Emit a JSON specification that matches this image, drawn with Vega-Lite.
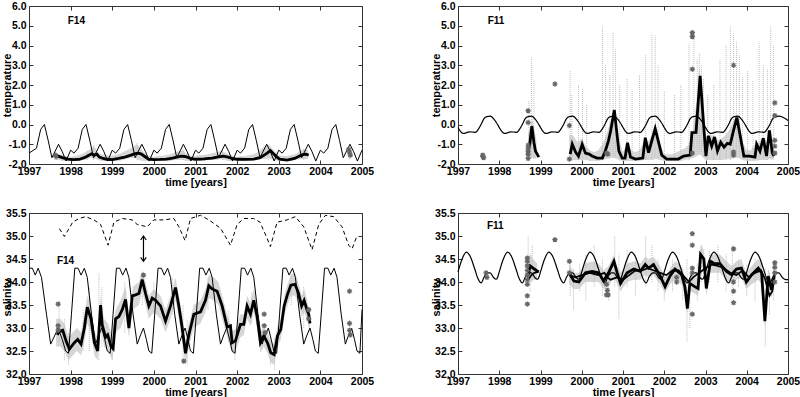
{
"$schema": "https://vega.github.io/schema/vega-lite/v6.json",
"background": "white",
"padding": {"left": 0, "top": 0, "right": 0, "bottom": 0},
"bounds": "flush",
"columns": 2,
"spacing": {"row": 49, "column": 96},
"config": {
 "view": {"stroke": "#333", "strokeWidth": 1},
 "axis": {"labelFont": "Liberation Sans", "labelFontSize": 10.5, "labelFontWeight": "bold", "labelColor": "#000", "titleFont": "Liberation Sans", "titleFontSize": 11, "titleFontWeight": "bold", "titleColor": "#000", "grid": false, "domain": false, "tickColor": "#333", "tickSize": -4, "labelOverlap": false, "labelBound": false, "labelFlush": false},
 "text": {"font": "Liberation Sans"}
},
"datasets": {
 "tl_model": [
  {"t":1997.0,"v":-1.45},{"t":1997.18,"v":-1.2},{"t":1997.28,"v":-0.25},{"t":1997.37,"v":0.0},{"t":1997.46,"v":-0.8},{"t":1997.55,"v":-1.68},{"t":1997.71,"v":-1.0},{"t":1997.8,"v":-1.38},{"t":1997.89,"v":-1.85},
  {"t":1998.0,"v":-1.3},{"t":1998.08,"v":-1.45},{"t":1998.18,"v":-1.2},{"t":1998.28,"v":-0.25},{"t":1998.37,"v":0.0},{"t":1998.46,"v":-0.8},{"t":1998.55,"v":-1.68},{"t":1998.71,"v":-1.0},{"t":1998.8,"v":-1.38},{"t":1998.89,"v":-1.85},
  {"t":1999.0,"v":-1.3},{"t":1999.08,"v":-1.45},{"t":1999.18,"v":-1.2},{"t":1999.28,"v":-0.25},{"t":1999.37,"v":0.0},{"t":1999.46,"v":-0.8},{"t":1999.55,"v":-1.68},{"t":1999.71,"v":-1.0},{"t":1999.8,"v":-1.38},{"t":1999.89,"v":-1.85},
  {"t":2000.0,"v":-1.3},{"t":2000.08,"v":-1.45},{"t":2000.18,"v":-1.2},{"t":2000.28,"v":-0.25},{"t":2000.37,"v":0.0},{"t":2000.46,"v":-0.8},{"t":2000.55,"v":-1.68},{"t":2000.71,"v":-1.0},{"t":2000.8,"v":-1.38},{"t":2000.89,"v":-1.85},
  {"t":2001.0,"v":-1.3},{"t":2001.08,"v":-1.45},{"t":2001.18,"v":-1.2},{"t":2001.28,"v":-0.25},{"t":2001.37,"v":0.0},{"t":2001.46,"v":-0.8},{"t":2001.55,"v":-1.68},{"t":2001.71,"v":-1.0},{"t":2001.8,"v":-1.38},{"t":2001.89,"v":-1.85},
  {"t":2002.0,"v":-1.3},{"t":2002.08,"v":-1.45},{"t":2002.18,"v":-1.2},{"t":2002.28,"v":-0.25},{"t":2002.37,"v":0.0},{"t":2002.46,"v":-0.8},{"t":2002.55,"v":-1.68},{"t":2002.71,"v":-1.0},{"t":2002.8,"v":-1.38},{"t":2002.89,"v":-1.85},
  {"t":2003.0,"v":-1.3},{"t":2003.08,"v":-1.45},{"t":2003.18,"v":-1.2},{"t":2003.28,"v":-0.25},{"t":2003.37,"v":0.0},{"t":2003.46,"v":-0.8},{"t":2003.55,"v":-1.68},{"t":2003.71,"v":-1.0},{"t":2003.8,"v":-1.38},{"t":2003.89,"v":-1.85},
  {"t":2004.0,"v":-1.3},{"t":2004.08,"v":-1.45},{"t":2004.18,"v":-1.2},{"t":2004.28,"v":-0.25},{"t":2004.37,"v":0.0},{"t":2004.46,"v":-0.8},{"t":2004.55,"v":-1.68},{"t":2004.71,"v":-1.0},{"t":2004.8,"v":-1.38},{"t":2004.89,"v":-1.85},
  {"t":2005.0,"v":-1.3}
 ],
 "tl_obs": [
  {"t":1997.6,"v":-1.55},{"t":1997.7,"v":-1.6},{"t":1997.8,"v":-1.68},{"t":1997.93,"v":-1.75},{"t":1998.05,"v":-1.78},{"t":1998.2,"v":-1.77},{"t":1998.33,"v":-1.68},{"t":1998.45,"v":-1.55},{"t":1998.5,"v":-1.48},{"t":1998.57,"v":-1.55},{"t":1998.63,"v":-1.5},{"t":1998.69,"v":-1.65},{"t":1998.78,"v":-1.72},{"t":1998.87,"v":-1.76},{"t":1999.0,"v":-1.78},{"t":1999.15,"v":-1.72},{"t":1999.3,"v":-1.65},{"t":1999.45,"v":-1.55},{"t":1999.55,"v":-1.48},{"t":1999.63,"v":-1.45},{"t":1999.7,"v":-1.5},{"t":1999.78,"v":-1.62},{"t":1999.87,"v":-1.75},{"t":2000.0,"v":-1.78},{"t":2000.15,"v":-1.77},{"t":2000.3,"v":-1.75},{"t":2000.45,"v":-1.7},{"t":2000.55,"v":-1.65},{"t":2000.65,"v":-1.6},{"t":2000.75,"v":-1.62},{"t":2000.88,"v":-1.72},{"t":2001.0,"v":-1.76},{"t":2001.2,"v":-1.74},{"t":2001.4,"v":-1.7},{"t":2001.55,"v":-1.64},{"t":2001.67,"v":-1.6},{"t":2001.78,"v":-1.65},{"t":2001.88,"v":-1.72},{"t":2002.0,"v":-1.76},{"t":2002.2,"v":-1.77},{"t":2002.4,"v":-1.75},{"t":2002.55,"v":-1.68},{"t":2002.65,"v":-1.55},{"t":2002.72,"v":-1.45},{"t":2002.8,"v":-1.32},{"t":2002.86,"v":-1.45},{"t":2002.93,"v":-1.6},{"t":2003.02,"v":-1.75},{"t":2003.2,"v":-1.8},{"t":2003.38,"v":-1.72},{"t":2003.5,"v":-1.6},{"t":2003.58,"v":-1.52},{"t":2003.65,"v":-1.5},{"t":2003.72,"v":-1.55}
 ],
 "tl_band": [
  {"t":1997.62,"v":-1.8,"v2":-1.4,"s":1},{"t":1997.72,"v":-1.8,"v2":-1.5,"s":1},{"t":1997.8,"v":-1.85,"v2":-1.55,"s":1},{"t":1997.9,"v":-1.85,"v2":-1.6,"s":1},{"t":1998.0,"v":-1.85,"v2":-1.65,"s":1},{"t":1998.1,"v":-1.85,"v2":-1.6,"s":1},{"t":1998.2,"v":-1.85,"v2":-1.55,"s":1},{"t":1998.3,"v":-1.8,"v2":-1.45,"s":1},{"t":1998.4,"v":-1.75,"v2":-1.35,"s":1},{"t":1998.5,"v":-1.7,"v2":-1.2,"s":1},{"t":1998.55,"v":-1.75,"v2":-1.1,"s":1},{"t":1998.6,"v":-1.75,"v2":-1.2,"s":1},{"t":1998.65,"v":-1.8,"v2":-1.4,"s":1},{"t":1998.75,"v":-1.85,"v2":-1.5,"s":1},{"t":1998.85,"v":-1.85,"v2":-1.55,"s":1},{"t":1998.95,"v":-1.85,"v2":-1.6,"s":1},{"t":1999.05,"v":-1.85,"v2":-1.55,"s":1},{"t":1999.15,"v":-1.85,"v2":-1.5,"s":1},{"t":1999.25,"v":-1.8,"v2":-1.4,"s":1},{"t":1999.35,"v":-1.75,"v2":-1.3,"s":1},{"t":1999.45,"v":-1.7,"v2":-1.2,"s":1},{"t":1999.55,"v":-1.7,"v2":-1.05,"s":1},{"t":1999.6,"v":-1.75,"v2":-1.0,"s":1},{"t":1999.65,"v":-1.8,"v2":-1.1,"s":1},{"t":1999.72,"v":-1.85,"v2":-1.3,"s":1},{"t":1999.8,"v":-1.85,"v2":-1.5,"s":1},{"t":1999.9,"v":-1.85,"v2":-1.6,"s":1},{"t":2000.0,"v":-1.85,"v2":-1.65,"s":1},{"t":2000.1,"v":-1.85,"v2":-1.6,"s":1},{"t":2000.2,"v":-1.85,"v2":-1.6,"s":1},{"t":2000.3,"v":-1.85,"v2":-1.55,"s":1},{"t":2000.4,"v":-1.85,"v2":-1.5,"s":1},{"t":2000.5,"v":-1.8,"v2":-1.4,"s":1},{"t":2000.6,"v":-1.8,"v2":-1.35,"s":1},{"t":2000.7,"v":-1.8,"v2":-1.3,"s":1},{"t":2000.8,"v":-1.85,"v2":-1.5,"s":1},{"t":2000.9,"v":-1.85,"v2":-1.6,"s":1},{"t":2001.0,"v":-1.85,"v2":-1.6,"s":1},{"t":2001.1,"v":-1.85,"v2":-1.55,"s":1},{"t":2001.2,"v":-1.85,"v2":-1.55,"s":1},{"t":2001.3,"v":-1.8,"v2":-1.5,"s":1},{"t":2001.4,"v":-1.8,"v2":-1.45,"s":1},{"t":2001.5,"v":-1.8,"v2":-1.4,"s":1},{"t":2001.6,"v":-1.75,"v2":-1.35,"s":1},{"t":2001.7,"v":-1.8,"v2":-1.4,"s":1},{"t":2001.8,"v":-1.85,"v2":-1.5,"s":1},{"t":2001.9,"v":-1.85,"v2":-1.6,"s":1},{"t":2002.0,"v":-1.85,"v2":-1.65,"s":1},{"t":2002.1,"v":-1.85,"v2":-1.6,"s":1},{"t":2002.2,"v":-1.85,"v2":-1.6,"s":1},{"t":2002.3,"v":-1.85,"v2":-1.55,"s":1},{"t":2002.4,"v":-1.8,"v2":-1.5,"s":1},{"t":2002.5,"v":-1.8,"v2":-1.4,"s":1},{"t":2002.6,"v":-1.75,"v2":-1.2,"s":1},{"t":2002.7,"v":-1.75,"v2":-1.05,"s":1},{"t":2002.75,"v":-1.7,"v2":-1.05,"s":1},{"t":2002.8,"v":-1.75,"v2":-1.1,"s":1},{"t":2002.9,"v":-1.8,"v2":-1.35,"s":1},{"t":2003.0,"v":-1.85,"v2":-1.55,"s":1},{"t":2003.1,"v":-1.85,"v2":-1.6,"s":1},{"t":2003.2,"v":-1.85,"v2":-1.6,"s":1},{"t":2003.3,"v":-1.85,"v2":-1.55,"s":1},{"t":2003.4,"v":-1.8,"v2":-1.5,"s":1},{"t":2003.5,"v":-1.75,"v2":-1.35,"s":1},{"t":2003.6,"v":-1.75,"v2":-1.25,"s":1},{"t":2003.7,"v":-1.75,"v2":-1.3,"s":1},
  {"t":2004.66,"v":-1.65,"v2":-1.2,"s":2},{"t":2004.7,"v":-1.7,"v2":-1.25,"s":2},{"t":2004.74,"v":-1.6,"v2":-1.3,"s":2}
 ],
 "tl_streak": [
  {"t":1998.4,"v":-1.8,"v2":-1.3},{"t":1998.55,"v":-1.8,"v2":-1.0},{"t":1999.6,"v":-1.8,"v2":-0.95},{"t":2000.7,"v":-1.8,"v2":-1.25},{"t":2001.65,"v":-1.8,"v2":-1.3},{"t":2002.75,"v":-1.8,"v2":-1.0},{"t":2003.6,"v":-1.8,"v2":-1.2},{"t":2004.7,"v":-1.75,"v2":-1.15}
 ],
 "tl_star": [
  {"t":1997.63,"v":-1.55},{"t":1997.65,"v":-1.62},{"t":2004.68,"v":-1.25},{"t":2004.7,"v":-1.4},{"t":2004.72,"v":-1.55}
 ],
 "tr_model": [
  {"t":1997.0,"v":-0.15},{"t":1997.06,"v":-0.35},{"t":1997.12,"v":-0.45},{"t":1997.2,"v":-0.42},{"t":1997.27,"v":-0.37},{"t":1997.35,"v":-0.38},{"t":1997.42,"v":-0.4},{"t":1997.49,"v":-0.25},{"t":1997.56,"v":0.0},{"t":1997.63,"v":0.3},{"t":1997.7,"v":0.4},{"t":1997.78,"v":0.42},{"t":1997.86,"v":0.3},{"t":1997.93,"v":0.1},
  {"t":1998.0,"v":-0.15},{"t":1998.06,"v":-0.35},{"t":1998.12,"v":-0.45},{"t":1998.2,"v":-0.42},{"t":1998.27,"v":-0.37},{"t":1998.35,"v":-0.38},{"t":1998.42,"v":-0.4},{"t":1998.49,"v":-0.25},{"t":1998.56,"v":0.0},{"t":1998.63,"v":0.3},{"t":1998.7,"v":0.4},{"t":1998.78,"v":0.42},{"t":1998.86,"v":0.3},{"t":1998.93,"v":0.1},
  {"t":1999.0,"v":-0.15},{"t":1999.06,"v":-0.35},{"t":1999.12,"v":-0.45},{"t":1999.2,"v":-0.42},{"t":1999.27,"v":-0.37},{"t":1999.35,"v":-0.38},{"t":1999.42,"v":-0.4},{"t":1999.49,"v":-0.25},{"t":1999.56,"v":0.0},{"t":1999.63,"v":0.3},{"t":1999.7,"v":0.4},{"t":1999.78,"v":0.42},{"t":1999.86,"v":0.3},{"t":1999.93,"v":0.1},
  {"t":2000.0,"v":-0.15},{"t":2000.06,"v":-0.35},{"t":2000.12,"v":-0.45},{"t":2000.2,"v":-0.42},{"t":2000.27,"v":-0.37},{"t":2000.35,"v":-0.38},{"t":2000.42,"v":-0.4},{"t":2000.49,"v":-0.25},{"t":2000.56,"v":0.0},{"t":2000.63,"v":0.3},{"t":2000.7,"v":0.4},{"t":2000.78,"v":0.42},{"t":2000.86,"v":0.3},{"t":2000.93,"v":0.1},
  {"t":2001.0,"v":-0.15},{"t":2001.06,"v":-0.35},{"t":2001.12,"v":-0.45},{"t":2001.2,"v":-0.42},{"t":2001.27,"v":-0.37},{"t":2001.35,"v":-0.38},{"t":2001.42,"v":-0.4},{"t":2001.49,"v":-0.25},{"t":2001.56,"v":0.0},{"t":2001.63,"v":0.3},{"t":2001.7,"v":0.4},{"t":2001.78,"v":0.42},{"t":2001.86,"v":0.3},{"t":2001.93,"v":0.1},
  {"t":2002.0,"v":-0.15},{"t":2002.06,"v":-0.35},{"t":2002.12,"v":-0.45},{"t":2002.2,"v":-0.42},{"t":2002.27,"v":-0.37},{"t":2002.35,"v":-0.38},{"t":2002.42,"v":-0.4},{"t":2002.49,"v":-0.25},{"t":2002.56,"v":0.0},{"t":2002.63,"v":0.3},{"t":2002.7,"v":0.4},{"t":2002.78,"v":0.42},{"t":2002.86,"v":0.3},{"t":2002.93,"v":0.1},
  {"t":2003.0,"v":-0.15},{"t":2003.06,"v":-0.35},{"t":2003.12,"v":-0.45},{"t":2003.2,"v":-0.42},{"t":2003.27,"v":-0.37},{"t":2003.35,"v":-0.38},{"t":2003.42,"v":-0.4},{"t":2003.49,"v":-0.25},{"t":2003.56,"v":0.0},{"t":2003.63,"v":0.3},{"t":2003.7,"v":0.4},{"t":2003.78,"v":0.42},{"t":2003.86,"v":0.3},{"t":2003.93,"v":0.1},
  {"t":2004.0,"v":-0.15},{"t":2004.06,"v":-0.35},{"t":2004.12,"v":-0.45},{"t":2004.2,"v":-0.42},{"t":2004.27,"v":-0.37},{"t":2004.35,"v":-0.38},{"t":2004.42,"v":-0.4},{"t":2004.49,"v":-0.25},{"t":2004.56,"v":0.0},{"t":2004.63,"v":0.3},{"t":2004.7,"v":0.4},{"t":2004.78,"v":0.42},{"t":2004.86,"v":0.38},{"t":2004.93,"v":0.3},
  {"t":2005.0,"v":0.2}
 ],
 "tr_obs": [
  {"t":1998.68,"v":-1.5,"s":1},{"t":1998.74,"v":-1.0,"s":1},{"t":1998.79,"v":-0.08,"s":1},{"t":1998.84,"v":-0.9,"s":1},{"t":1998.88,"v":-1.35,"s":1},{"t":1998.96,"v":-1.65,"s":1},
  {"t":1999.72,"v":-1.5,"s":2},{"t":1999.77,"v":-1.0,"s":2},{"t":1999.85,"v":-1.4,"s":2},{"t":1999.92,"v":-1.6,"s":2},{"t":2000.01,"v":-1.0,"s":2},{"t":2000.09,"v":-1.45,"s":2},{"t":2000.18,"v":-1.5,"s":2},{"t":2000.25,"v":-1.6,"s":2},{"t":2000.37,"v":-1.7,"s":2},{"t":2000.5,"v":-1.7,"s":2},{"t":2000.57,"v":-1.35,"s":2},{"t":2000.65,"v":-0.8,"s":2},{"t":2000.7,"v":-0.33,"s":2},{"t":2000.79,"v":0.73,"s":2},{"t":2000.9,"v":-1.35,"s":2},{"t":2000.98,"v":-1.7,"s":2},{"t":2001.05,"v":-1.7,"s":2},{"t":2001.11,"v":-0.92,"s":2},{"t":2001.18,"v":-1.65,"s":2},{"t":2001.3,"v":-1.75,"s":2},{"t":2001.48,"v":-1.7,"s":2},{"t":2001.54,"v":-0.67,"s":2},{"t":2001.62,"v":-1.43,"s":2},{"t":2001.78,"v":-0.21,"s":2},{"t":2001.94,"v":-1.55,"s":2},{"t":2002.06,"v":-1.75,"s":2},{"t":2002.34,"v":-1.75,"s":2},{"t":2002.47,"v":-1.6,"s":2},{"t":2002.63,"v":-1.55,"s":2},{"t":2002.67,"v":-0.41,"s":2},{"t":2002.77,"v":-0.4,"s":2},{"t":2002.87,"v":2.46,"s":2},{"t":2003.01,"v":-1.6,"s":2},{"t":2003.07,"v":-0.58,"s":2},{"t":2003.15,"v":-1.1,"s":2},{"t":2003.22,"v":-0.63,"s":2},{"t":2003.29,"v":-1.34,"s":2},{"t":2003.37,"v":-0.9,"s":2},{"t":2003.45,"v":-1.15,"s":2},{"t":2003.53,"v":-0.95,"s":2},{"t":2003.6,"v":-1.0,"s":2},{"t":2003.68,"v":-0.3,"s":2},{"t":2003.76,"v":0.35,"s":2},{"t":2003.93,"v":-1.6,"s":2},{"t":2004.07,"v":-1.6,"s":2},{"t":2004.2,"v":-1.65,"s":2},{"t":2004.24,"v":-1.0,"s":2},{"t":2004.32,"v":-1.35,"s":2},{"t":2004.4,"v":-0.7,"s":2},{"t":2004.48,"v":-1.6,"s":2},{"t":2004.55,"v":-0.3,"s":2},{"t":2004.62,"v":-1.45,"s":2},{"t":2004.66,"v":-1.6,"s":2}
 ],
 "tr_band": [
  {"t":1998.7,"v":-1.8,"v2":-0.5,"s":1},{"t":1998.8,"v":-1.7,"v2":0.3,"s":1},{"t":1998.9,"v":-1.75,"v2":-0.8,"s":1},
  {"t":1999.7,"v":-1.85,"v2":-0.5,"s":2},{"t":1999.8,"v":-1.8,"v2":-0.6,"s":2},{"t":1999.9,"v":-1.8,"v2":-0.9,"s":2},{"t":2000.0,"v":-1.8,"v2":-0.7,"s":2},{"t":2000.1,"v":-1.8,"v2":-1.1,"s":2},{"t":2000.2,"v":-1.85,"v2":-1.3,"s":2},{"t":2000.3,"v":-1.85,"v2":-1.4,"s":2},{"t":2000.4,"v":-1.85,"v2":-1.3,"s":2},{"t":2000.5,"v":-1.8,"v2":-1.0,"s":2},{"t":2000.6,"v":-1.75,"v2":-0.5,"s":2},{"t":2000.7,"v":-1.7,"v2":0.2,"s":2},{"t":2000.8,"v":-1.7,"v2":0.5,"s":2},{"t":2000.9,"v":-1.8,"v2":-0.8,"s":2},{"t":2001.0,"v":-1.85,"v2":-1.4,"s":2},{"t":2001.1,"v":-1.85,"v2":-0.9,"s":2},{"t":2001.2,"v":-1.85,"v2":-1.3,"s":2},{"t":2001.3,"v":-1.85,"v2":-1.4,"s":2},{"t":2001.4,"v":-1.85,"v2":-1.3,"s":2},{"t":2001.5,"v":-1.8,"v2":-0.9,"s":2},{"t":2001.6,"v":-1.8,"v2":-0.9,"s":2},{"t":2001.7,"v":-1.8,"v2":-0.5,"s":2},{"t":2001.8,"v":-1.75,"v2":-0.3,"s":2},{"t":2001.9,"v":-1.8,"v2":-1.0,"s":2},{"t":2002.0,"v":-1.85,"v2":-1.5,"s":2},{"t":2002.1,"v":-1.85,"v2":-1.5,"s":2},{"t":2002.2,"v":-1.85,"v2":-1.5,"s":2},{"t":2002.3,"v":-1.85,"v2":-1.4,"s":2},{"t":2002.4,"v":-1.85,"v2":-1.3,"s":2},{"t":2002.5,"v":-1.8,"v2":-1.2,"s":2},{"t":2002.6,"v":-1.75,"v2":-1.0,"s":2},{"t":2002.7,"v":-1.7,"v2":-0.2,"s":2},{"t":2002.8,"v":-1.6,"v2":1.5,"s":2},{"t":2002.85,"v":-1.5,"v2":3.0,"s":2},{"t":2002.9,"v":-1.6,"v2":1.8,"s":2},{"t":2003.0,"v":-1.8,"v2":-0.6,"s":2},{"t":2003.1,"v":-1.8,"v2":-0.5,"s":2},{"t":2003.2,"v":-1.8,"v2":-0.6,"s":2},{"t":2003.3,"v":-1.8,"v2":-0.8,"s":2},{"t":2003.4,"v":-1.8,"v2":-0.7,"s":2},{"t":2003.5,"v":-1.75,"v2":-0.5,"s":2},{"t":2003.6,"v":-1.75,"v2":-0.2,"s":2},{"t":2003.7,"v":-1.7,"v2":0.3,"s":2},{"t":2003.8,"v":-1.7,"v2":0.5,"s":2},{"t":2003.9,"v":-1.8,"v2":-0.9,"s":2},{"t":2004.0,"v":-1.85,"v2":-1.3,"s":2},{"t":2004.1,"v":-1.85,"v2":-1.3,"s":2},{"t":2004.2,"v":-1.85,"v2":-1.0,"s":2},{"t":2004.3,"v":-1.8,"v2":-0.9,"s":2},{"t":2004.4,"v":-1.8,"v2":-0.6,"s":2},{"t":2004.5,"v":-1.8,"v2":-0.9,"s":2},{"t":2004.55,"v":-1.75,"v2":-0.2,"s":2},{"t":2004.65,"v":-1.8,"v2":-0.9,"s":2}
 ],
 "tr_streak": [
  {"t":1998.72,"v":-1.8,"v2":1.2},{"t":1998.78,"v":-1.7,"v2":3.4},{"t":1998.84,"v":-1.7,"v2":2.2},{"t":1999.72,"v":-1.8,"v2":2.7},{"t":1999.76,"v":-1.7,"v2":1.5},{"t":1999.92,"v":-1.8,"v2":2.0},{"t":2000.02,"v":-1.7,"v2":1.8},{"t":2000.12,"v":-1.7,"v2":1.0},{"t":2000.5,"v":-1.8,"v2":5.0},{"t":2000.58,"v":-1.7,"v2":3.0},{"t":2000.68,"v":-1.7,"v2":2.5},{"t":2000.76,"v":-1.6,"v2":4.7},{"t":2000.82,"v":-1.6,"v2":3.8},{"t":2000.92,"v":-1.7,"v2":2.0},{"t":2001.1,"v":-1.8,"v2":2.3},{"t":2001.22,"v":-1.7,"v2":1.7},{"t":2001.4,"v":-1.8,"v2":2.5},{"t":2001.55,"v":-1.8,"v2":3.5},{"t":2001.7,"v":-1.7,"v2":4.6},{"t":2001.78,"v":-1.6,"v2":4.5},{"t":2001.85,"v":-1.7,"v2":3.0},{"t":2002.0,"v":-1.8,"v2":1.7},{"t":2002.25,"v":-1.8,"v2":1.5},{"t":2002.4,"v":-1.8,"v2":2.0},{"t":2002.6,"v":-1.8,"v2":4.1},{"t":2002.72,"v":-1.6,"v2":4.8},{"t":2002.8,"v":-1.5,"v2":3.3},{"t":2002.85,"v":-1.5,"v2":3.6},{"t":2002.9,"v":-1.4,"v2":3.0},{"t":2002.95,"v":-1.6,"v2":2.3},{"t":2003.05,"v":-1.8,"v2":1.5},{"t":2003.2,"v":-1.8,"v2":2.0},{"t":2003.35,"v":-1.8,"v2":3.3},{"t":2003.5,"v":-1.8,"v2":4.0},{"t":2003.6,"v":-1.8,"v2":5.0},{"t":2003.68,"v":-1.7,"v2":4.6},{"t":2003.75,"v":-1.6,"v2":4.2},{"t":2003.82,"v":-1.6,"v2":3.5},{"t":2003.9,"v":-1.7,"v2":2.4},{"t":2004.02,"v":-1.8,"v2":2.7},{"t":2004.15,"v":-1.8,"v2":2.2},{"t":2004.3,"v":-1.8,"v2":4.2},{"t":2004.4,"v":-1.7,"v2":3.0},{"t":2004.5,"v":-1.8,"v2":2.8},{"t":2004.58,"v":-1.7,"v2":5.0},{"t":2004.65,"v":-1.7,"v2":4.0}
 ],
 "tr_star": [
  {"t":1997.6,"v":-1.55},{"t":1997.6,"v":-1.62},{"t":1997.62,"v":-1.68},{"t":1998.7,"v":0.7},{"t":1998.7,"v":0.1},{"t":1998.7,"v":-1.05},{"t":1998.7,"v":-1.2},{"t":1998.7,"v":-1.35},{"t":1998.7,"v":-1.5},{"t":1998.7,"v":-1.72},{"t":1999.35,"v":2.05},{"t":1999.7,"v":-0.05},{"t":1999.7,"v":-1.75},{"t":2000.6,"v":-1.45},{"t":2000.63,"v":-1.5},{"t":2002.68,"v":4.65},{"t":2002.68,"v":4.45},{"t":2002.68,"v":2.8},{"t":2002.68,"v":-1.45},{"t":2003.68,"v":3.0},{"t":2003.68,"v":-1.4},{"t":2003.68,"v":-1.55},{"t":2004.68,"v":1.1},{"t":2004.68,"v":0.45},{"t":2004.68,"v":-0.8},{"t":2004.68,"v":-1.1},{"t":2004.68,"v":-1.45}
 ],
 "bl_model": [
  {"t":1997.0,"v":34.3},{"t":1997.08,"v":34.3},{"t":1997.15,"v":34.15},{"t":1997.22,"v":34.3},{"t":1997.3,"v":34.1},{"t":1997.42,"v":33.3},{"t":1997.52,"v":32.65},{"t":1997.6,"v":32.8},{"t":1997.7,"v":33.0},{"t":1997.8,"v":32.75},{"t":1997.88,"v":32.5},{"t":1997.95,"v":32.45},
  {"t":1998.02,"v":33.3},{"t":1998.1,"v":34.3},{"t":1998.18,"v":34.3},{"t":1998.25,"v":34.15},{"t":1998.33,"v":34.3},{"t":1998.4,"v":34.1},{"t":1998.5,"v":33.3},{"t":1998.6,"v":32.65},{"t":1998.68,"v":32.85},{"t":1998.75,"v":33.0},{"t":1998.82,"v":32.75},{"t":1998.88,"v":32.5},{"t":1998.95,"v":32.45},
  {"t":1999.02,"v":33.3},{"t":1999.1,"v":34.3},{"t":1999.18,"v":34.3},{"t":1999.25,"v":34.15},{"t":1999.33,"v":34.3},{"t":1999.4,"v":34.1},{"t":1999.5,"v":33.3},{"t":1999.6,"v":32.65},{"t":1999.68,"v":32.85},{"t":1999.75,"v":33.0},{"t":1999.82,"v":32.75},{"t":1999.88,"v":32.5},{"t":1999.95,"v":32.45},
  {"t":2000.02,"v":33.3},{"t":2000.1,"v":34.3},{"t":2000.18,"v":34.3},{"t":2000.25,"v":34.15},{"t":2000.33,"v":34.3},{"t":2000.4,"v":34.1},{"t":2000.5,"v":33.3},{"t":2000.6,"v":32.65},{"t":2000.68,"v":32.85},{"t":2000.75,"v":33.0},{"t":2000.82,"v":32.75},{"t":2000.88,"v":32.5},{"t":2000.95,"v":32.45},
  {"t":2001.02,"v":33.3},{"t":2001.1,"v":34.3},{"t":2001.18,"v":34.3},{"t":2001.25,"v":34.15},{"t":2001.33,"v":34.3},{"t":2001.4,"v":34.1},{"t":2001.5,"v":33.3},{"t":2001.6,"v":32.65},{"t":2001.68,"v":32.85},{"t":2001.75,"v":33.0},{"t":2001.82,"v":32.75},{"t":2001.88,"v":32.5},{"t":2001.95,"v":32.45},
  {"t":2002.02,"v":33.3},{"t":2002.1,"v":34.3},{"t":2002.18,"v":34.3},{"t":2002.25,"v":34.15},{"t":2002.33,"v":34.3},{"t":2002.4,"v":34.1},{"t":2002.5,"v":33.3},{"t":2002.6,"v":32.65},{"t":2002.68,"v":32.85},{"t":2002.75,"v":33.0},{"t":2002.82,"v":32.75},{"t":2002.88,"v":32.5},{"t":2002.95,"v":32.45},
  {"t":2003.02,"v":33.3},{"t":2003.1,"v":34.3},{"t":2003.18,"v":34.3},{"t":2003.25,"v":34.15},{"t":2003.33,"v":34.3},{"t":2003.4,"v":34.1},{"t":2003.5,"v":33.3},{"t":2003.6,"v":32.65},{"t":2003.68,"v":32.85},{"t":2003.75,"v":33.0},{"t":2003.82,"v":32.75},{"t":2003.88,"v":32.5},{"t":2003.95,"v":32.45},
  {"t":2004.02,"v":33.3},{"t":2004.1,"v":34.3},{"t":2004.18,"v":34.3},{"t":2004.25,"v":34.15},{"t":2004.33,"v":34.3},{"t":2004.4,"v":34.1},{"t":2004.5,"v":33.3},{"t":2004.6,"v":32.65},{"t":2004.68,"v":32.85},{"t":2004.75,"v":33.0},{"t":2004.82,"v":32.75},{"t":2004.88,"v":32.5},{"t":2004.95,"v":32.45},
  {"t":2005.0,"v":33.4}
 ],
 "bl_obs": [
  {"t":1997.68,"v":32.85},{"t":1997.73,"v":32.93},{"t":1997.81,"v":32.95},{"t":1997.89,"v":32.72},{"t":1997.97,"v":32.54},{"t":1998.09,"v":32.68},{"t":1998.17,"v":32.75},{"t":1998.25,"v":32.65},{"t":1998.33,"v":33.0},{"t":1998.4,"v":33.45},{"t":1998.49,"v":33.2},{"t":1998.57,"v":32.68},{"t":1998.65,"v":32.5},{"t":1998.72,"v":33.5},{"t":1998.76,"v":33.06},{"t":1998.84,"v":32.8},{"t":1998.89,"v":32.85},{"t":1998.97,"v":32.6},{"t":1999.02,"v":32.55},{"t":1999.08,"v":33.2},{"t":1999.16,"v":33.25},{"t":1999.24,"v":33.4},{"t":1999.32,"v":33.62},{"t":1999.4,"v":33.0},{"t":1999.48,"v":33.7},{"t":1999.56,"v":33.72},{"t":1999.64,"v":33.75},{"t":1999.72,"v":34.05},{"t":1999.8,"v":33.75},{"t":1999.88,"v":33.48},{"t":1999.96,"v":33.65},{"t":2000.04,"v":33.6},{"t":2000.16,"v":33.48},{"t":2000.28,"v":33.15},{"t":2000.4,"v":33.48},{"t":2000.52,"v":33.88},{"t":2000.6,"v":33.48},{"t":2000.68,"v":33.0},{"t":2000.76,"v":32.45},{"t":2000.84,"v":32.85},{"t":2000.96,"v":33.3},{"t":2001.12,"v":33.35},{"t":2001.24,"v":33.6},{"t":2001.32,"v":33.92},{"t":2001.4,"v":33.85},{"t":2001.52,"v":33.8},{"t":2001.64,"v":33.48},{"t":2001.76,"v":33.02},{"t":2001.84,"v":33.05},{"t":2001.88,"v":32.68},{"t":2001.96,"v":32.72},{"t":2002.08,"v":33.08},{"t":2002.16,"v":33.08},{"t":2002.24,"v":33.48},{"t":2002.32,"v":33.3},{"t":2002.4,"v":33.6},{"t":2002.48,"v":33.25},{"t":2002.56,"v":32.68},{"t":2002.64,"v":32.83},{"t":2002.73,"v":32.68},{"t":2002.81,"v":32.46},{"t":2002.89,"v":32.42},{"t":2002.97,"v":32.83},{"t":2003.05,"v":32.97},{"t":2003.13,"v":33.48},{"t":2003.21,"v":33.73},{"t":2003.29,"v":33.93},{"t":2003.39,"v":33.95},{"t":2003.47,"v":33.77},{"t":2003.55,"v":33.48},{"t":2003.61,"v":33.6},{"t":2003.67,"v":33.42},{"t":2003.72,"v":33.3},{"t":2003.75,"v":33.1}
 ],
 "bl_dash": [
  {"t":1997.73,"v":35.16},{"t":1997.85,"v":34.99},{"t":1998.05,"v":35.3},{"t":1998.2,"v":35.38},{"t":1998.36,"v":35.42},{"t":1998.56,"v":35.35},{"t":1998.72,"v":35.25},{"t":1998.9,"v":34.8},{"t":1999.04,"v":35.3},{"t":1999.24,"v":35.38},{"t":1999.48,"v":35.35},{"t":1999.6,"v":35.25},{"t":1999.84,"v":35.2},{"t":2000.0,"v":35.35},{"t":2000.24,"v":35.35},{"t":2000.48,"v":35.38},{"t":2000.6,"v":35.2},{"t":2000.75,"v":34.9},{"t":2000.88,"v":35.38},{"t":2001.12,"v":35.45},{"t":2001.32,"v":35.35},{"t":2001.6,"v":35.17},{"t":2001.84,"v":34.8},{"t":2002.0,"v":35.25},{"t":2002.16,"v":35.38},{"t":2002.4,"v":35.38},{"t":2002.55,"v":35.3},{"t":2002.72,"v":34.95},{"t":2002.8,"v":34.77},{"t":2002.96,"v":35.3},{"t":2003.2,"v":35.35},{"t":2003.4,"v":35.42},{"t":2003.6,"v":35.2},{"t":2003.8,"v":34.7},{"t":2003.96,"v":35.25},{"t":2004.12,"v":35.45},{"t":2004.32,"v":35.42},{"t":2004.52,"v":35.2},{"t":2004.68,"v":34.8},{"t":2004.76,"v":34.72},{"t":2004.88,"v":35.0}
 ],
 "bl_band": [
  {"t":1997.65,"v":32.6,"v2":33.2},{"t":1997.75,"v":32.6,"v2":33.2},{"t":1997.85,"v":32.5,"v2":33.1},{"t":1997.95,"v":32.3,"v2":32.8},{"t":1998.05,"v":32.4,"v2":32.9},{"t":1998.15,"v":32.5,"v2":33.0},{"t":1998.25,"v":32.4,"v2":32.9},{"t":1998.33,"v":32.7,"v2":33.3},{"t":1998.4,"v":33.1,"v2":33.7},{"t":1998.49,"v":32.9,"v2":33.5},{"t":1998.57,"v":32.4,"v2":32.9},{"t":1998.65,"v":32.3,"v2":32.8},{"t":1998.72,"v":33.1,"v2":33.7},{"t":1998.8,"v":32.6,"v2":33.2},{"t":1998.9,"v":32.5,"v2":33.1},{"t":1999.0,"v":32.3,"v2":32.8},{"t":1999.08,"v":32.9,"v2":33.4},{"t":1999.2,"v":33.0,"v2":33.6},{"t":1999.32,"v":33.3,"v2":33.9},{"t":1999.4,"v":32.8,"v2":33.3},{"t":1999.5,"v":33.4,"v2":33.9},{"t":1999.64,"v":33.5,"v2":34.0},{"t":1999.72,"v":33.8,"v2":34.25},{"t":1999.8,"v":33.5,"v2":34.0},{"t":1999.88,"v":33.2,"v2":33.7},{"t":2000.0,"v":33.35,"v2":33.85},{"t":2000.16,"v":33.2,"v2":33.7},{"t":2000.28,"v":32.9,"v2":33.4},{"t":2000.4,"v":33.2,"v2":33.7},{"t":2000.52,"v":33.6,"v2":34.1},{"t":2000.6,"v":33.2,"v2":33.7},{"t":2000.68,"v":32.7,"v2":33.3},{"t":2000.76,"v":32.2,"v2":32.7},{"t":2000.84,"v":32.6,"v2":33.1},{"t":2000.96,"v":33.0,"v2":33.5},{"t":2001.12,"v":33.1,"v2":33.6},{"t":2001.24,"v":33.35,"v2":33.85},{"t":2001.32,"v":33.65,"v2":34.15},{"t":2001.45,"v":33.6,"v2":34.1},{"t":2001.55,"v":33.5,"v2":34.0},{"t":2001.64,"v":33.2,"v2":33.7},{"t":2001.76,"v":32.8,"v2":33.3},{"t":2001.88,"v":32.45,"v2":32.95},{"t":2001.96,"v":32.5,"v2":32.95},{"t":2002.08,"v":32.8,"v2":33.3},{"t":2002.16,"v":32.85,"v2":33.3},{"t":2002.24,"v":33.2,"v2":33.7},{"t":2002.32,"v":33.05,"v2":33.55},{"t":2002.4,"v":33.35,"v2":33.85},{"t":2002.48,"v":33.0,"v2":33.5},{"t":2002.56,"v":32.45,"v2":32.9},{"t":2002.64,"v":32.6,"v2":33.05},{"t":2002.73,"v":32.45,"v2":32.9},{"t":2002.81,"v":32.25,"v2":32.7},{"t":2002.89,"v":32.2,"v2":32.65},{"t":2002.97,"v":32.6,"v2":33.05},{"t":2003.05,"v":32.75,"v2":33.2},{"t":2003.13,"v":33.25,"v2":33.7},{"t":2003.21,"v":33.5,"v2":33.95},{"t":2003.29,"v":33.7,"v2":34.15},{"t":2003.39,"v":33.7,"v2":34.2},{"t":2003.47,"v":33.55,"v2":34.0},{"t":2003.55,"v":33.25,"v2":33.7},{"t":2003.61,"v":33.35,"v2":33.85},{"t":2003.67,"v":33.2,"v2":33.65},{"t":2003.75,"v":32.9,"v2":33.3}
 ],
 "bl_streak": [
  {"t":1997.72,"v":32.7,"v2":33.6},{"t":1997.85,"v":32.3,"v2":33.2},{"t":1997.95,"v":32.2,"v2":32.9},{"t":1998.3,"v":32.5,"v2":33.4},{"t":1998.45,"v":32.5,"v2":33.9},{"t":1998.68,"v":32.3,"v2":34.2},{"t":1998.75,"v":32.6,"v2":33.9},{"t":1999.0,"v":32.3,"v2":33.0},{"t":1999.3,"v":32.9,"v2":34.0},{"t":1999.72,"v":33.5,"v2":34.2},{"t":2000.0,"v":33.3,"v2":34.0},{"t":2000.45,"v":33.3,"v2":34.1},{"t":2000.7,"v":32.3,"v2":33.5},{"t":2000.8,"v":32.2,"v2":33.2},{"t":2001.3,"v":33.4,"v2":34.1},{"t":2001.8,"v":32.7,"v2":33.4},{"t":2001.95,"v":32.3,"v2":33.0},{"t":2002.35,"v":33.1,"v2":33.8},{"t":2002.8,"v":32.2,"v2":32.9},{"t":2002.9,"v":32.1,"v2":32.8},{"t":2003.3,"v":33.5,"v2":34.2},{"t":2003.6,"v":33.0,"v2":33.9},{"t":2004.7,"v":32.8,"v2":33.2}
 ],
 "bl_star": [
  {"t":1997.7,"v":33.52},{"t":1997.7,"v":33.05},{"t":1997.7,"v":32.95},{"t":1999.75,"v":34.15},{"t":2000.72,"v":32.28},{"t":2002.65,"v":33.3},{"t":2002.65,"v":33.05},{"t":2002.67,"v":32.9},{"t":2003.72,"v":33.4},{"t":2003.72,"v":33.2},{"t":2004.7,"v":33.8},{"t":2004.7,"v":33.1},{"t":2004.7,"v":32.95},{"t":2004.72,"v":32.85}
 ],
 "bl_arrow": [{"t":1999.75,"v":34.45,"v2":35.0}],
 "bl_head": [{"t":1999.75,"v":35.0,"dir":"up"},{"t":1999.75,"v":34.45,"dir":"down"}],
 "br_model": [
  {"t":1997.0,"v":34.22},{"t":1997.1,"v":34.5},{"t":1997.2,"v":34.65},{"t":1997.3,"v":34.55},{"t":1997.4,"v":34.3},{"t":1997.48,"v":34.08},{"t":1997.56,"v":33.98},{"t":1997.64,"v":34.12},{"t":1997.72,"v":34.2},{"t":1997.78,"v":34.2},{"t":1997.86,"v":34.1},{"t":1997.92,"v":34.06},{"t":1997.96,"v":34.1},
  {"t":1998.0,"v":34.22},{"t":1998.1,"v":34.5},{"t":1998.2,"v":34.65},{"t":1998.3,"v":34.55},{"t":1998.4,"v":34.3},{"t":1998.48,"v":34.08},{"t":1998.56,"v":33.98},{"t":1998.64,"v":34.12},{"t":1998.72,"v":34.2},{"t":1998.78,"v":34.2},{"t":1998.86,"v":34.1},{"t":1998.92,"v":34.06},{"t":1998.96,"v":34.1},
  {"t":1999.0,"v":34.22},{"t":1999.1,"v":34.5},{"t":1999.2,"v":34.65},{"t":1999.3,"v":34.55},{"t":1999.4,"v":34.3},{"t":1999.48,"v":34.08},{"t":1999.56,"v":33.98},{"t":1999.64,"v":34.12},{"t":1999.72,"v":34.2},{"t":1999.78,"v":34.2},{"t":1999.86,"v":34.1},{"t":1999.92,"v":34.06},{"t":1999.96,"v":34.1},
  {"t":2000.0,"v":34.22},{"t":2000.1,"v":34.5},{"t":2000.2,"v":34.65},{"t":2000.3,"v":34.55},{"t":2000.4,"v":34.3},{"t":2000.48,"v":34.08},{"t":2000.56,"v":33.98},{"t":2000.64,"v":34.12},{"t":2000.72,"v":34.2},{"t":2000.78,"v":34.2},{"t":2000.86,"v":34.1},{"t":2000.92,"v":34.06},{"t":2000.96,"v":34.1},
  {"t":2001.0,"v":34.22},{"t":2001.1,"v":34.5},{"t":2001.2,"v":34.65},{"t":2001.3,"v":34.55},{"t":2001.4,"v":34.3},{"t":2001.48,"v":34.08},{"t":2001.56,"v":33.98},{"t":2001.64,"v":34.12},{"t":2001.72,"v":34.2},{"t":2001.78,"v":34.2},{"t":2001.86,"v":34.1},{"t":2001.92,"v":34.06},{"t":2001.96,"v":34.1},
  {"t":2002.0,"v":34.22},{"t":2002.1,"v":34.5},{"t":2002.2,"v":34.65},{"t":2002.3,"v":34.55},{"t":2002.4,"v":34.3},{"t":2002.48,"v":34.08},{"t":2002.56,"v":33.98},{"t":2002.64,"v":34.12},{"t":2002.72,"v":34.2},{"t":2002.78,"v":34.2},{"t":2002.86,"v":34.1},{"t":2002.92,"v":34.06},{"t":2002.96,"v":34.1},
  {"t":2003.0,"v":34.22},{"t":2003.1,"v":34.5},{"t":2003.2,"v":34.65},{"t":2003.3,"v":34.55},{"t":2003.4,"v":34.3},{"t":2003.48,"v":34.08},{"t":2003.56,"v":33.98},{"t":2003.64,"v":34.12},{"t":2003.72,"v":34.2},{"t":2003.78,"v":34.2},{"t":2003.86,"v":34.1},{"t":2003.92,"v":34.06},{"t":2003.96,"v":34.1},
  {"t":2004.0,"v":34.22},{"t":2004.1,"v":34.5},{"t":2004.2,"v":34.65},{"t":2004.3,"v":34.55},{"t":2004.4,"v":34.3},{"t":2004.48,"v":34.08},{"t":2004.56,"v":33.98},{"t":2004.64,"v":34.12},{"t":2004.72,"v":34.2},{"t":2004.78,"v":34.2},{"t":2004.86,"v":34.1},{"t":2004.92,"v":34.06},{"t":2004.96,"v":34.05},
  {"t":2005.0,"v":34.05}
 ],
 "br_obs": [
  {"t":1998.7,"v":34.15,"s":1},{"t":1998.75,"v":34.35,"s":1},{"t":1998.82,"v":34.3,"s":1},{"t":1998.9,"v":34.25,"s":1},{"t":1998.96,"v":34.22,"s":1},
  {"t":1999.69,"v":34.2,"s":2},{"t":1999.81,"v":34.02,"s":2},{"t":1999.93,"v":34.0,"s":2},{"t":2000.09,"v":34.2,"s":2},{"t":2000.25,"v":34.23,"s":2},{"t":2000.41,"v":34.2,"s":2},{"t":2000.53,"v":34.02,"s":2},{"t":2000.65,"v":34.2,"s":2},{"t":2000.78,"v":34.45,"s":2},{"t":2000.86,"v":34.2,"s":2},{"t":2000.94,"v":33.97,"s":2},{"t":2001.1,"v":34.2,"s":2},{"t":2001.26,"v":34.28,"s":2},{"t":2001.42,"v":34.23,"s":2},{"t":2001.54,"v":34.38,"s":2},{"t":2001.62,"v":34.3,"s":2},{"t":2001.74,"v":34.38,"s":2},{"t":2001.9,"v":34.13,"s":2},{"t":2002.02,"v":33.9,"s":2},{"t":2002.14,"v":34.13,"s":2},{"t":2002.26,"v":34.28,"s":2},{"t":2002.42,"v":34.16,"s":2},{"t":2002.5,"v":33.9,"s":2},{"t":2002.56,"v":33.42,"s":2},{"t":2002.62,"v":33.97,"s":2},{"t":2002.74,"v":33.9,"s":2},{"t":2002.82,"v":33.86,"s":2},{"t":2002.88,"v":34.6,"s":2},{"t":2002.96,"v":34.5,"s":2},{"t":2003.02,"v":33.86,"s":2},{"t":2003.12,"v":34.45,"s":2},{"t":2003.22,"v":34.4,"s":2},{"t":2003.35,"v":34.4,"s":2},{"t":2003.51,"v":34.23,"s":2},{"t":2003.63,"v":34.16,"s":2},{"t":2003.75,"v":34.28,"s":2},{"t":2003.87,"v":34.3,"s":2},{"t":2003.99,"v":34.0,"s":2},{"t":2004.12,"v":34.16,"s":2},{"t":2004.28,"v":34.3,"s":2},{"t":2004.36,"v":34.2,"s":2},{"t":2004.44,"v":33.15,"s":2},{"t":2004.52,"v":34.13,"s":2},{"t":2004.6,"v":33.83,"s":2},{"t":2004.66,"v":34.1,"s":2}
 ],
 "br_obs2": [
  {"t":1998.7,"v":34.05,"s":1},{"t":1998.78,"v":34.15,"s":1},{"t":1998.85,"v":34.2,"s":1},{"t":1998.95,"v":34.22,"s":1},
  {"t":1999.7,"v":34.15,"s":2},{"t":1999.85,"v":34.1,"s":2},{"t":2000.0,"v":34.15,"s":2},{"t":2000.2,"v":34.2,"s":2},{"t":2000.4,"v":34.15,"s":2},{"t":2000.55,"v":34.2,"s":2},{"t":2000.62,"v":34.1,"s":2},{"t":2000.7,"v":34.05,"s":2},{"t":2000.85,"v":34.1,"s":2},{"t":2001.0,"v":34.05,"s":2},{"t":2001.15,"v":34.15,"s":2},{"t":2001.3,"v":34.25,"s":2},{"t":2001.45,"v":34.25,"s":2},{"t":2001.6,"v":34.3,"s":2},{"t":2001.75,"v":34.25,"s":2},{"t":2001.9,"v":34.2,"s":2},{"t":2002.05,"v":34.15,"s":2},{"t":2002.2,"v":34.25,"s":2},{"t":2002.35,"v":34.25,"s":2},{"t":2002.5,"v":34.1,"s":2},{"t":2002.6,"v":34.0,"s":2},{"t":2002.7,"v":34.1,"s":2},{"t":2002.85,"v":34.2,"s":2},{"t":2003.0,"v":34.3,"s":2},{"t":2003.15,"v":34.38,"s":2},{"t":2003.3,"v":34.35,"s":2},{"t":2003.45,"v":34.3,"s":2},{"t":2003.6,"v":34.2,"s":2},{"t":2003.75,"v":34.15,"s":2},{"t":2003.9,"v":34.25,"s":2},{"t":2004.05,"v":34.1,"s":2},{"t":2004.2,"v":34.2,"s":2},{"t":2004.35,"v":34.25,"s":2},{"t":2004.45,"v":34.05,"s":2},{"t":2004.55,"v":33.7,"s":2},{"t":2004.62,"v":33.8,"s":2},{"t":2004.68,"v":34.15,"s":2}
 ],
 "br_band": [
  {"t":1998.68,"v":34.0,"v2":34.5,"s":1},{"t":1998.75,"v":34.0,"v2":34.6,"s":1},{"t":1998.82,"v":34.05,"v2":34.5,"s":1},{"t":1998.92,"v":34.05,"v2":34.4,"s":1},
  {"t":1999.69,"v":33.95,"v2":34.4,"s":2},{"t":1999.81,"v":33.85,"v2":34.2,"s":2},{"t":1999.93,"v":33.85,"v2":34.2,"s":2},{"t":2000.09,"v":34.0,"v2":34.4,"s":2},{"t":2000.25,"v":34.0,"v2":34.45,"s":2},{"t":2000.41,"v":34.0,"v2":34.4,"s":2},{"t":2000.53,"v":33.85,"v2":34.25,"s":2},{"t":2000.65,"v":33.9,"v2":34.35,"s":2},{"t":2000.78,"v":34.1,"v2":34.6,"s":2},{"t":2000.86,"v":33.95,"v2":34.35,"s":2},{"t":2000.94,"v":33.8,"v2":34.2,"s":2},{"t":2001.1,"v":34.0,"v2":34.4,"s":2},{"t":2001.26,"v":34.05,"v2":34.45,"s":2},{"t":2001.42,"v":34.05,"v2":34.4,"s":2},{"t":2001.54,"v":34.15,"v2":34.55,"s":2},{"t":2001.62,"v":34.1,"v2":34.5,"s":2},{"t":2001.74,"v":34.15,"v2":34.55,"s":2},{"t":2001.9,"v":33.95,"v2":34.35,"s":2},{"t":2002.02,"v":33.75,"v2":34.1,"s":2},{"t":2002.14,"v":33.95,"v2":34.3,"s":2},{"t":2002.26,"v":34.05,"v2":34.45,"s":2},{"t":2002.42,"v":33.95,"v2":34.35,"s":2},{"t":2002.5,"v":33.7,"v2":34.1,"s":2},{"t":2002.56,"v":33.3,"v2":33.7,"s":2},{"t":2002.62,"v":33.8,"v2":34.15,"s":2},{"t":2002.74,"v":33.75,"v2":34.1,"s":2},{"t":2002.82,"v":33.7,"v2":34.1,"s":2},{"t":2002.88,"v":34.35,"v2":34.8,"s":2},{"t":2002.96,"v":34.25,"v2":34.7,"s":2},{"t":2003.02,"v":33.7,"v2":34.1,"s":2},{"t":2003.12,"v":34.2,"v2":34.6,"s":2},{"t":2003.22,"v":34.2,"v2":34.6,"s":2},{"t":2003.35,"v":34.2,"v2":34.6,"s":2},{"t":2003.51,"v":34.05,"v2":34.45,"s":2},{"t":2003.63,"v":33.95,"v2":34.35,"s":2},{"t":2003.75,"v":34.05,"v2":34.45,"s":2},{"t":2003.87,"v":34.1,"v2":34.5,"s":2},{"t":2003.99,"v":33.85,"v2":34.2,"s":2},{"t":2004.12,"v":33.95,"v2":34.35,"s":2},{"t":2004.28,"v":34.05,"v2":34.5,"s":2},{"t":2004.36,"v":33.95,"v2":34.4,"s":2},{"t":2004.44,"v":33.0,"v2":33.5,"s":2},{"t":2004.52,"v":33.9,"v2":34.3,"s":2},{"t":2004.6,"v":33.65,"v2":34.05,"s":2},{"t":2004.66,"v":33.9,"v2":34.3,"s":2}
 ],
 "br_streak": [
  {"t":1998.7,"v":33.9,"v2":35.0},{"t":1998.75,"v":33.8,"v2":34.6},{"t":1998.8,"v":34.0,"v2":34.8},{"t":1999.72,"v":33.7,"v2":34.5},{"t":1999.8,"v":33.4,"v2":34.3},{"t":1999.95,"v":33.8,"v2":34.4},{"t":2000.1,"v":33.6,"v2":34.6},{"t":2000.3,"v":33.9,"v2":34.8},{"t":2000.5,"v":33.7,"v2":34.5},{"t":2000.65,"v":33.6,"v2":34.3},{"t":2000.8,"v":33.9,"v2":35.0},{"t":2000.9,"v":33.2,"v2":34.6},{"t":2001.1,"v":33.9,"v2":34.7},{"t":2001.3,"v":33.7,"v2":34.6},{"t":2001.55,"v":33.9,"v2":35.0},{"t":2001.7,"v":34.0,"v2":34.8},{"t":2001.85,"v":33.8,"v2":34.5},{"t":2002.0,"v":33.6,"v2":34.3},{"t":2002.2,"v":33.8,"v2":34.5},{"t":2002.45,"v":33.6,"v2":34.3},{"t":2002.55,"v":32.7,"v2":34.5},{"t":2002.62,"v":33.0,"v2":34.0},{"t":2002.8,"v":33.6,"v2":34.4},{"t":2002.9,"v":34.0,"v2":34.8},{"t":2003.1,"v":34.0,"v2":34.7},{"t":2003.3,"v":34.0,"v2":34.8},{"t":2003.5,"v":33.8,"v2":34.6},{"t":2003.65,"v":33.7,"v2":34.8},{"t":2003.8,"v":33.9,"v2":34.5},{"t":2004.0,"v":33.7,"v2":34.4},{"t":2004.2,"v":33.6,"v2":34.5},{"t":2004.35,"v":33.8,"v2":34.5},{"t":2004.45,"v":32.6,"v2":34.3},{"t":2004.55,"v":33.3,"v2":34.2},{"t":2004.65,"v":33.6,"v2":34.3}
 ],
 "br_star": [
  {"t":1997.68,"v":34.2},{"t":1997.7,"v":34.1},{"t":1998.68,"v":34.52},{"t":1998.68,"v":34.45},{"t":1998.68,"v":34.35},{"t":1998.68,"v":34.25},{"t":1998.68,"v":34.15},{"t":1998.68,"v":34.05},{"t":1998.68,"v":33.95},{"t":1998.68,"v":33.7},{"t":1998.68,"v":33.52},{"t":1999.35,"v":34.92},{"t":1999.7,"v":34.45},{"t":1999.7,"v":34.2},{"t":2000.6,"v":33.95},{"t":2000.62,"v":33.82},{"t":2000.6,"v":33.72},{"t":2000.64,"v":33.72},{"t":2002.3,"v":34.1},{"t":2002.3,"v":34.0},{"t":2002.68,"v":35.05},{"t":2002.68,"v":34.8},{"t":2002.68,"v":34.3},{"t":2002.68,"v":34.2},{"t":2002.68,"v":33.3},{"t":2003.68,"v":34.72},{"t":2003.68,"v":34.0},{"t":2003.68,"v":33.8},{"t":2003.68,"v":33.55},{"t":2004.68,"v":34.42},{"t":2004.68,"v":34.32},{"t":2004.68,"v":34.2},{"t":2004.68,"v":34.0}
 ]
},
"concat": [
  {"width": 333, "height": 158,
   "encoding": {
    "x": {"field": "t", "type": "quantitative", "scale": {"domain": [1997, 2005], "nice": false, "zero": false}, "axis": null},
    "y": {"field": "v", "type": "quantitative", "scale": {"domain": [-2, 6], "nice": false, "zero": false}, "axis": null}
   },
   "layer": [
    {"data": {"name": "tl_band"}, "mark": {"type": "area", "color": "#cfcfcf", "opacity": 0.85},
     "encoding": {
      "x": {"field": "t", "type": "quantitative", "axis": {"orient": "bottom", "values": [1997,1998,1999,2000,2001,2002,2003,2004,2005], "format": "d", "title": "time [years]", "labelPadding": 6, "titlePadding": 0}},
      "y": {"field": "v", "type": "quantitative", "axis": {"orient": "left", "values": [-2,-1,0,1,2,3,4,5,6], "labelExpr": "datum.value < 0 ? '-' + format(-datum.value, '.1f') : format(datum.value, '.1f')", "title": "temperature", "labelPadding": 7, "titleX": -17, "titleY": 79}},
      "y2": {"field": "v2"}, "detail": {"field": "s"}}},
    {"data": {"name": "tl_streak"}, "mark": {"type": "rule", "color": "#bdbdbd", "strokeWidth": 1, "strokeDash": [1, 1]}, "encoding": {"y2": {"field": "v2"}}},
    {"data": {"name": "tl_model"}, "mark": {"type": "line", "color": "#000", "strokeWidth": 1}, "encoding": {}},
    {"data": {"name": "tl_obs"}, "mark": {"type": "line", "color": "#000", "strokeWidth": 2.8}, "encoding": {}},
    {"data": {"name": "tl_star"}, "mark": {"type": "point", "shape": "M-1,0L1,0M0,-1L0,1M-0.7,-0.7L0.7,0.7M-0.7,0.7L0.7,-0.7", "size": 28, "color": "#666", "strokeWidth": 1.2, "filled": false, "opacity": 1}, "encoding": {}},
    {"data": {"values": [{"t": 1997.93, "v": 5.22, "label": "F14"}]}, "mark": {"type": "text", "align": "left", "baseline": "middle", "fontWeight": "bold", "fontSize": 10, "color": "#000"},
     "encoding": {
      "x": {"field": "t", "type": "quantitative", "axis": {"orient": "top", "values": [1997,1998,1999,2000,2001,2002,2003,2004,2005], "labels": false, "title": null}},
      "y": {"field": "v", "type": "quantitative", "axis": {"orient": "right", "values": [-2,-1,0,1,2,3,4,5,6], "labels": false, "title": null}},
      "text": {"field": "label"}}}
   ]
  },
  {"width": 330, "height": 158,
   "encoding": {
    "x": {"field": "t", "type": "quantitative", "scale": {"domain": [1997, 2005], "nice": false, "zero": false}, "axis": null},
    "y": {"field": "v", "type": "quantitative", "scale": {"domain": [-2, 6], "nice": false, "zero": false}, "axis": null}
   },
   "layer": [
    {"data": {"name": "tr_band"}, "mark": {"type": "area", "color": "#cfcfcf", "opacity": 0.85},
     "encoding": {
      "x": {"field": "t", "type": "quantitative", "axis": {"orient": "bottom", "values": [1997,1998,1999,2000,2001,2002,2003,2004,2005], "format": "d", "title": "time [years]", "labelPadding": 6, "titlePadding": 0}},
      "y": {"field": "v", "type": "quantitative", "axis": {"orient": "left", "values": [-2,-1,0,1,2,3,4,5,6], "labelExpr": "datum.value < 0 ? '-' + format(-datum.value, '.1f') : format(datum.value, '.1f')", "title": "temperature", "labelPadding": 7, "titleX": -17, "titleY": 79}},
      "y2": {"field": "v2"}, "detail": {"field": "s"}}},
    {"data": {"name": "tr_streak"}, "mark": {"type": "rule", "color": "#bdbdbd", "strokeWidth": 1, "strokeDash": [1, 1]}, "encoding": {"y2": {"field": "v2"}}},
    {"data": {"name": "tr_model"}, "mark": {"type": "line", "color": "#000", "strokeWidth": 1.2, "interpolate": "monotone"}, "encoding": {}},
    {"data": {"name": "tr_obs"}, "mark": {"type": "line", "color": "#000", "strokeWidth": 2.8}, "encoding": {"detail": {"field": "s"}}},
    {"data": {"name": "tr_star"}, "mark": {"type": "point", "shape": "M-1,0L1,0M0,-1L0,1M-0.7,-0.7L0.7,0.7M-0.7,0.7L0.7,-0.7", "size": 28, "color": "#666", "strokeWidth": 1.2, "filled": false, "opacity": 1}, "encoding": {}},
    {"data": {"values": [{"t": 1997.72, "v": 5.22, "label": "F11"}]}, "mark": {"type": "text", "align": "left", "baseline": "middle", "fontWeight": "bold", "fontSize": 10, "color": "#000"},
     "encoding": {
      "x": {"field": "t", "type": "quantitative", "axis": {"orient": "top", "values": [1997,1998,1999,2000,2001,2002,2003,2004,2005], "labels": false, "title": null}},
      "y": {"field": "v", "type": "quantitative", "axis": {"orient": "right", "values": [-2,-1,0,1,2,3,4,5,6], "labels": false, "title": null}},
      "text": {"field": "label"}}}
   ]
  },
  {"width": 333, "height": 161,
   "encoding": {
    "x": {"field": "t", "type": "quantitative", "scale": {"domain": [1997, 2005], "nice": false, "zero": false}, "axis": null},
    "y": {"field": "v", "type": "quantitative", "scale": {"domain": [32, 35.5], "nice": false, "zero": false}, "axis": null}
   },
   "layer": [
    {"data": {"name": "bl_band"}, "mark": {"type": "area", "color": "#cfcfcf", "opacity": 0.85},
     "encoding": {
      "x": {"field": "t", "type": "quantitative", "axis": {"orient": "bottom", "values": [1997,1998,1999,2000,2001,2002,2003,2004,2005], "format": "d", "title": "time [years]", "labelPadding": 6, "titlePadding": 0}},
      "y": {"field": "v", "type": "quantitative", "axis": {"orient": "left", "values": [32,32.5,33,33.5,34,34.5,35,35.5], "format": ".1f", "title": "salinity", "labelPadding": 7, "titleX": -17, "titleY": 84}},
      "y2": {"field": "v2"}}},
    {"data": {"name": "bl_streak"}, "mark": {"type": "rule", "color": "#bdbdbd", "strokeWidth": 1, "strokeDash": [1, 1]}, "encoding": {"y2": {"field": "v2"}}},
    {"data": {"name": "bl_model"}, "mark": {"type": "line", "color": "#000", "strokeWidth": 1}, "encoding": {}},
    {"data": {"name": "bl_dash"}, "mark": {"type": "line", "color": "#000", "strokeWidth": 1, "strokeDash": [4, 3]}, "encoding": {}},
    {"data": {"name": "bl_obs"}, "mark": {"type": "line", "color": "#000", "strokeWidth": 2.8}, "encoding": {}},
    {"data": {"name": "bl_star"}, "mark": {"type": "point", "shape": "M-1,0L1,0M0,-1L0,1M-0.7,-0.7L0.7,0.7M-0.7,0.7L0.7,-0.7", "size": 28, "color": "#666", "strokeWidth": 1.2, "filled": false, "opacity": 1}, "encoding": {}},
    {"data": {"name": "bl_arrow"}, "mark": {"type": "rule", "color": "#000", "strokeWidth": 1.2}, "encoding": {"y2": {"field": "v2"}}},
    {"data": {"name": "bl_head"}, "mark": {"type": "point", "size": 64, "color": "#000", "strokeWidth": 1.2, "filled": false, "opacity": 1}, "encoding": {"shape": {"field": "dir", "type": "nominal", "scale": {"domain": ["up", "down"], "range": ["M-0.7,1L0,0L0.7,1", "M-0.7,-1L0,0L0.7,-1"]}, "legend": null}}},
    {"data": {"values": [{"t": 1997.67, "v": 34.46, "label": "F14"}]}, "mark": {"type": "text", "align": "left", "baseline": "middle", "fontWeight": "bold", "fontSize": 10, "color": "#000"},
     "encoding": {
      "x": {"field": "t", "type": "quantitative", "axis": {"orient": "top", "values": [1997,1998,1999,2000,2001,2002,2003,2004,2005], "labels": false, "title": null}},
      "y": {"field": "v", "type": "quantitative", "axis": {"orient": "right", "values": [32,32.5,33,33.5,34,34.5,35,35.5], "labels": false, "title": null}},
      "text": {"field": "label"}}}
   ]
  },
  {"width": 330, "height": 161,
   "encoding": {
    "x": {"field": "t", "type": "quantitative", "scale": {"domain": [1997, 2005], "nice": false, "zero": false}, "axis": null},
    "y": {"field": "v", "type": "quantitative", "scale": {"domain": [32, 35.5], "nice": false, "zero": false}, "axis": null}
   },
   "layer": [
    {"data": {"name": "br_band"}, "mark": {"type": "area", "color": "#cfcfcf", "opacity": 0.85},
     "encoding": {
      "x": {"field": "t", "type": "quantitative", "axis": {"orient": "bottom", "values": [1997,1998,1999,2000,2001,2002,2003,2004,2005], "format": "d", "title": "time [years]", "labelPadding": 6, "titlePadding": 0}},
      "y": {"field": "v", "type": "quantitative", "axis": {"orient": "left", "values": [32,32.5,33,33.5,34,34.5,35,35.5], "format": ".1f", "title": "salinity", "labelPadding": 7, "titleX": -17, "titleY": 84}},
      "y2": {"field": "v2"}, "detail": {"field": "s"}}},
    {"data": {"name": "br_streak"}, "mark": {"type": "rule", "color": "#bdbdbd", "strokeWidth": 1, "strokeDash": [1, 1]}, "encoding": {"y2": {"field": "v2"}}},
    {"data": {"name": "br_model"}, "mark": {"type": "line", "color": "#000", "strokeWidth": 1.2, "interpolate": "monotone"}, "encoding": {}},
    {"data": {"name": "br_obs2"}, "mark": {"type": "line", "color": "#000", "strokeWidth": 1.8}, "encoding": {"detail": {"field": "s"}}},
    {"data": {"name": "br_obs"}, "mark": {"type": "line", "color": "#000", "strokeWidth": 2.8}, "encoding": {"detail": {"field": "s"}}},
    {"data": {"name": "br_star"}, "mark": {"type": "point", "shape": "M-1,0L1,0M0,-1L0,1M-0.7,-0.7L0.7,0.7M-0.7,0.7L0.7,-0.7", "size": 28, "color": "#666", "strokeWidth": 1.2, "filled": false, "opacity": 1}, "encoding": {}},
    {"data": {"values": [{"t": 1997.7, "v": 35.22, "label": "F11"}]}, "mark": {"type": "text", "align": "left", "baseline": "middle", "fontWeight": "bold", "fontSize": 10, "color": "#000"},
     "encoding": {
      "x": {"field": "t", "type": "quantitative", "axis": {"orient": "top", "values": [1997,1998,1999,2000,2001,2002,2003,2004,2005], "labels": false, "title": null}},
      "y": {"field": "v", "type": "quantitative", "axis": {"orient": "right", "values": [32,32.5,33,33.5,34,34.5,35,35.5], "labels": false, "title": null}},
      "text": {"field": "label"}}}
   ]
  }
]
}
